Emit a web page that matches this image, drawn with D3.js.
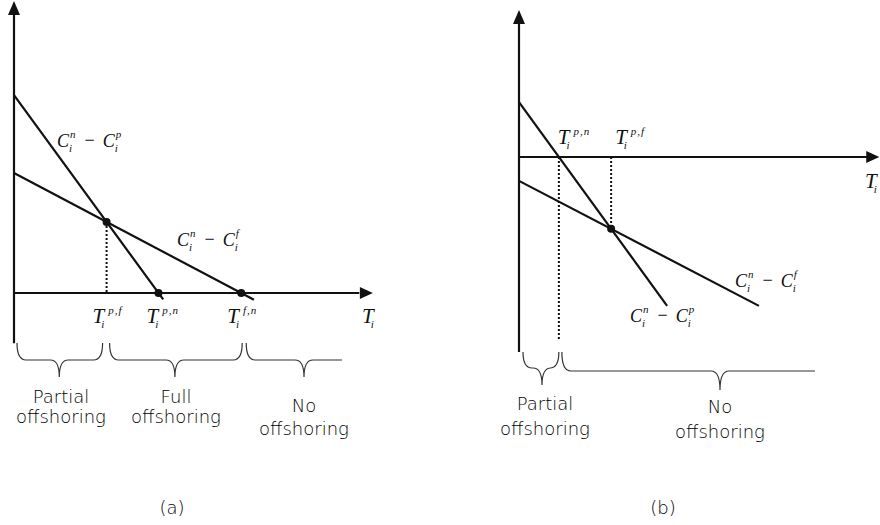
<!DOCTYPE html>
<html>
<head>
<meta charset="utf-8">
<script src="https://cdn.jsdelivr.net/npm/d3@7/dist/d3.min.js"></script>
<style>
  body { margin: 0; background: #fff; }
  svg { display: block; }
</style>
</head>
<body>
<svg id="chart" width="880" height="525"></svg>
<script>
// cost-difference lines, in plot units (intercept on the y axis, slope, where the segment stops)
const linesA = [
  { key: 'p', intercept: 55.6, slope: -1.37, xEnd: 41.9 },
  { key: 'f', intercept: 33.7, slope: -0.528, xEnd: 67.4 }
];
const linesB = [
  { key: 'p', intercept: 15.4, slope: -1.375, xEnd: 41.6 },
  { key: 'f', intercept: -6.7, slope: -0.521, xEnd: 67.4 }
];
const regionLabelsA = [['Partial', 'offshoring'], ['Full', 'offshoring'], ['No', 'offshoring']];
const regionLabelsB = [['Partial', 'offshoring'], ['No', 'offshoring']];
const panelTitles = ['(a)', '(b)'];

const SERIF = "'Liberation Serif', 'DejaVu Serif', serif";
const SANS = "'DejaVu Sans', sans-serif";
const INK = '#111';
const SMALL = 11;

const svg = d3.select('#chart');

const root = l => -l.intercept / l.slope;
const yAt = (l, x) => l.intercept + l.slope * x;
const cross = (a, b) => (b.intercept - a.intercept) / (a.slope - b.slope);

const line = (x, y) => d3.line().x(d => x(d[0])).y(d => y(d[1]));

function arrowRight(g, px, py) {
  g.append('path').attr('d', `M${px},${py}L${px - 13},${py - 6}L${px - 13},${py + 6}Z`).attr('fill', INK);
}
function arrowUp(g, px, py) {
  g.append('path').attr('d', `M${px},${py}L${px - 6},${py + 14}L${px + 6},${py + 14}Z`).attr('fill', INK);
}

// width of a string in a given font, measured off-screen
function measure(str, size, italic) {
  const t = svg.append('text').attr('font-family', SERIF).attr('font-size', size)
    .attr('font-style', italic ? 'italic' : 'normal').attr('letter-spacing', size === SMALL ? 1 : 0).text(str);
  const w = t.node().getComputedTextLength();
  t.remove();
  return w;
}

// T_i^{p,f} style label as one text: base, subscript and superscript stacked with tspans
function mathLabel(g, x, y, parts, size) {
  const t = g.append('text').attr('x', x).attr('y', y)
    .attr('font-family', SERIF).attr('font-size', size).attr('fill', INK);
  let dyAcc = 0; // keep track of baseline shift
  parts.forEach((p, k) => {
    if (p.op) {
      t.append('tspan').attr('dx', 8).attr('dy', -1 - dyAcc).text(p.op);
      dyAcc = -1;
      return;
    }
    t.append('tspan').attr('dx', k === 0 ? 0 : 8).attr('dy', -dyAcc).attr('font-style', 'italic').text(p.base);
    dyAcc = 0;
    const subDx = p.subDx || 0, supDx = p.supDx || 0;
    let wSub = 0;
    if (p.sub) {
      t.append('tspan').attr('dx', subDx).attr('dy', 5).attr('font-style', 'italic')
        .attr('font-size', SMALL).text(p.sub);
      wSub = measure(p.sub, SMALL, true);
      dyAcc = 5;
    }
    if (p.sup) {
      const back = p.sub ? -(subDx + wSub) + supDx : supDx;
      t.append('tspan').attr('dx', back).attr('dy', -9 - dyAcc).attr('font-style', 'italic')
        .attr('font-size', SMALL).attr('letter-spacing', 1).text(p.sup);
      dyAcc = -9;
    }
  });
}
const tLabel = (sup) => [{ base: 'T', sub: 'i', sup: sup, subDx: -3, supDx: 5 }];
const cLabel = (sup) => [
  { base: 'C', sub: 'i', sup: 'n', subDx: 0, supDx: 2 },
  { op: '\u2212' },
  { base: 'C', sub: 'i', sup: sup, subDx: 0, supDx: 2 }
];

// curly brace under the axis; open = no curl at the right end
function brace(g, x0, x1, xm, yTop, yMid, yTip, open) {
  const r = 9;
  let d = `M${x0},${yTop}Q${x0},${yMid} ${x0 + r},${yMid}L${xm - r},${yMid}` +
          `Q${xm},${yMid} ${xm},${yTip}Q${xm},${yMid} ${xm + r},${yMid}`;
  d += open ? `L${x1},${yMid}` : `L${x1 - r},${yMid}Q${x1},${yMid} ${x1},${yTop}`;
  g.append('path').attr('d', d).attr('fill', 'none').attr('stroke', '#333').attr('stroke-width', 1.2);
}

function regionText(g, cx, y0, lines, gap) {
  lines.forEach((s, i) => {
    g.append('text').attr('x', cx).attr('y', y0 + i * gap).attr('text-anchor', 'middle')
      .attr('font-family', SANS).attr('font-weight', 200).attr('font-size', 18)
      .attr('fill', '#000').text(s);
  });
}

// ---------- panel (a) ----------
{
  const g = svg.append('g');
  const x = d3.scaleLinear().domain([0, 100]).range([14, 370]);
  const y = d3.scaleLinear().domain([0, 82.3]).range([293, 0]);
  const [lp, lf] = linesA;
  const ix = cross(lp, lf), iy = yAt(lp, ix);
  const rp = root(lp), rf = root(lf);

  // axes
  g.append('path').attr('d', line(x, y)([[0, -14.1], [0, 80]])).attr('stroke', INK).attr('stroke-width', 2.2);
  arrowUp(g, x(0), y(82.3) + 1);
  g.append('path').attr('d', line(x, y)([[0, 0], [97, 0]])).attr('stroke', INK).attr('stroke-width', 2.2);
  arrowRight(g, x(100.8), y(0));

  // dotted drop
  g.append('path').attr('d', line(x, y)([[ix, iy], [ix, 0]]))
    .attr('stroke', INK).attr('stroke-width', 2).attr('stroke-dasharray', '2,2');

  // lines
  linesA.forEach(l => {
    g.append('path').attr('d', line(x, y)([[0, l.intercept], [l.xEnd, yAt(l, l.xEnd)]]))
      .attr('stroke', INK).attr('stroke-width', 2.2).attr('fill', 'none');
  });

  // points
  [[ix, iy], [rp, 0], [rf, 0]].forEach(p => {
    g.append('circle').attr('cx', x(p[0])).attr('cy', y(p[1])).attr('r', 4).attr('fill', INK);
  });

  // labels
  mathLabel(g, 57, 147, cLabel('p'), 18);
  mathLabel(g, 177, 246, cLabel('f'), 18);
  const ty = y(0) + 30;
  mathLabel(g, x(ix) - 14, ty, tLabel('p,f'), 21);
  mathLabel(g, x(rp) - 12, ty, tLabel('p,n'), 21);
  mathLabel(g, x(rf) - 14, ty, tLabel('f,n'), 21);
  mathLabel(g, x(100) - 8, ty, [{ base: 'T', sub: 'i', subDx: -3 }], 21);

  // braces
  brace(g, x(0) + 3, x(ix) - 4, (x(0) + x(ix)) / 2 - 1, 343, 360, 377, false);
  brace(g, x(ix) + 3, x(rf) + 1, (x(ix) + x(rf)) / 2 + 1, 343, 360, 377, false);
  brace(g, x(rf) + 5, 342, 304, 343, 360, 377, true);

  regionText(g, 61, 403, regionLabelsA[0], 20);
  regionText(g, 176, 403, regionLabelsA[1], 20);
  regionText(g, 304, 412, regionLabelsA[2], 23);

  g.append('text').attr('x', 172).attr('y', 514).attr('text-anchor', 'middle')
    .attr('font-family', SANS).attr('font-weight', 200).attr('font-size', 18)
    .attr('fill', '#000').text(panelTitles[0]);
}

// ---------- panel (b) ----------
{
  const g = svg.append('g');
  const x = d3.scaleLinear().domain([0, 100]).range([519, 875]);
  const y = d3.scaleLinear().domain([0, 44.1]).range([157, 0]);
  const [lp, lf] = linesB;
  const ix = cross(lp, lf), iy = yAt(lp, ix);
  const rp = root(lp);

  g.append('path').attr('d', line(x, y)([[0, -54.8], [0, 38]])).attr('stroke', INK).attr('stroke-width', 2.2);
  arrowUp(g, x(0), y(41.3));
  g.append('path').attr('d', line(x, y)([[0, 0], [98, 0]])).attr('stroke', INK).attr('stroke-width', 2.2);
  arrowRight(g, x(101.2), y(0));

  g.append('path').attr('d', line(x, y)([[rp, 0], [rp, -51.5]]))
    .attr('stroke', INK).attr('stroke-width', 2).attr('stroke-dasharray', '2,2');
  g.append('path').attr('d', line(x, y)([[ix, 0], [ix, iy]]))
    .attr('stroke', INK).attr('stroke-width', 2).attr('stroke-dasharray', '2,2');

  linesB.forEach(l => {
    g.append('path').attr('d', line(x, y)([[0, l.intercept], [l.xEnd, yAt(l, l.xEnd)]]))
      .attr('stroke', INK).attr('stroke-width', 2.2).attr('fill', 'none');
  });

  g.append('circle').attr('cx', x(ix)).attr('cy', y(iy)).attr('r', 4).attr('fill', INK);

  mathLabel(g, 735, 287, cLabel('f'), 18);
  mathLabel(g, 630, 322, cLabel('p'), 18);
  mathLabel(g, x(rp) - 1, y(0) - 13, tLabel('p,n'), 21);
  mathLabel(g, x(ix) + 4, y(0) - 13, tLabel('p,f'), 21);
  mathLabel(g, 865, y(0) + 31, [{ base: 'T', sub: 'i', subDx: -3 }], 21);

  brace(g, x(0) + 4, x(rp), 542, 352, 368, 385, false);
  brace(g, x(rp) + 3, 815, 720, 352, 371, 390, true);

  regionText(g, 545, 410, regionLabelsB[0], 25);
  regionText(g, 720, 413, regionLabelsB[1], 25);

  g.append('text').attr('x', 663).attr('y', 514).attr('text-anchor', 'middle')
    .attr('font-family', SANS).attr('font-weight', 200).attr('font-size', 18)
    .attr('fill', '#000').text(panelTitles[1]);
}
</script>
</body>
</html>
